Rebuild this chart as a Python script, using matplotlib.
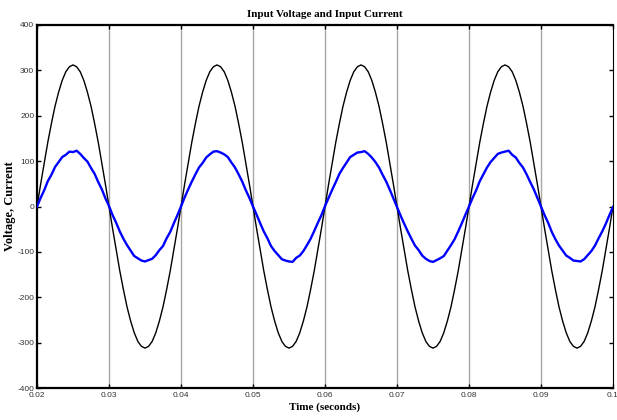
import numpy as np
import matplotlib.pyplot as plt

plt.rcParams['axes.unicode_minus'] = False

# samples every 0.5 ms, from 0.02 s to 0.1 s
time_s = np.linspace(0.02, 0.1, 161)

voltage = [
    0, 49, 96, 142, 183, 221, 252, 278, 297, 308, 312, 308, 297, 278, 252, 221, 183, 142, 96, 49,
    0, -49, -96, -142, -183, -221, -252, -278, -297, -308, -312, -308, -297, -278, -252, -221, -183, -142, -96, -49,
    0, 49, 96, 142, 183, 221, 252, 278, 297, 308, 312, 308, 297, 278, 252, 221, 183, 142, 96, 49,
    0, -49, -96, -142, -183, -221, -252, -278, -297, -308, -312, -308, -297, -278, -252, -221, -183, -142, -96, -49,
    0, 49, 96, 142, 183, 221, 252, 278, 297, 308, 312, 308, 297, 278, 252, 221, 183, 142, 96, 49,
    0, -49, -96, -142, -183, -221, -252, -278, -297, -308, -312, -308, -297, -278, -252, -221, -183, -142, -96, -49,
    0, 49, 96, 142, 183, 221, 252, 278, 297, 308, 312, 308, 297, 278, 252, 221, 183, 142, 96, 49,
    0, -49, -96, -142, -183, -221, -252, -278, -297, -308, -312, -308, -297, -278, -252, -221, -183, -142, -96, -49,
    0,
]

current = [
    0, 19, 36, 56, 70, 87, 98, 109, 114, 121, 120, 123, 116, 107, 99, 85, 72, 54, 38, 18,
    1, -19, -36, -55, -71, -85, -97, -109, -114, -119, -121, -118, -115, -107, -96, -87, -70, -56, -37, -19,
    0, 20, 38, 55, 71, 86, 96, 108, 115, 121, 122, 119, 115, 109, 97, 86, 71, 55, 36, 19,
    0, -18, -37, -55, -70, -87, -98, -107, -116, -119, -121, -122, -113, -108, -98, -85, -71, -54, -36, -19,
    1, 19, 37, 54, 72, 85, 97, 109, 114, 119, 120, 122, 116, 108, 98, 86, 70, 55, 37, 18,
    -1, -20, -38, -55, -71, -86, -96, -108, -115, -120, -122, -118, -114, -109, -97, -85, -72, -55, -37, -18,
    0, 19, 36, 56, 71, 86, 98, 107, 116, 119, 121, 123, 114, 108, 96, 86, 71, 54, 38, 19,
    0, -19, -36, -56, -72, -86, -97, -108, -113, -119, -120, -121, -116, -107, -98, -86, -70, -55, -38, -19,
    -1,
]

x_ticks = [0.02, 0.03, 0.04, 0.05, 0.06, 0.07, 0.08, 0.09, 0.1]
x_tick_labels = ['0.02', '0.03', '0.04', '0.05', '0.06', '0.07', '0.08', '0.09', '0.1']
y_ticks = [-400, -300, -200, -100, 0, 100, 200, 300, 400]

serif = ['Liberation Serif', 'DejaVu Serif']

fig = plt.figure(figsize=(6.17, 4.2), dpi=100)
ax = fig.add_axes([0.060, 0.076, 0.9335, 0.8645])

# vertical grid only
for xt in x_ticks[1:-1]:
    ax.axvline(xt, color='#a8a8a8', lw=1.0, zorder=1)

ax.plot(time_s, voltage, color='black', lw=1.0, zorder=3)
ax.plot(time_s, current, color='#0000ff', lw=1.7, zorder=4)

ax.set_xlim(0.02, 0.1)
ax.set_ylim(-400, 400)
ax.set_xticks(x_ticks)
ax.set_xticklabels(x_tick_labels)
ax.set_yticks(y_ticks)
ax.tick_params(direction='in', length=3, width=1, top=True, right=True,
               labelsize=6, labelcolor='#333333', pad=2)
ax.tick_params(axis='x', pad=3)
for lab in ax.get_xticklabels() + ax.get_yticklabels():
    lab.set_family(['Liberation Sans', 'DejaVu Sans'])

for side in ['top', 'bottom', 'left']:
    ax.spines[side].set_linewidth(1.6)
ax.spines['right'].set_linewidth(0.8)

ax.set_title('Input Voltage and Input Current', fontsize=8, fontweight='bold',
             family=serif, pad=6)
ax.set_xlabel('Time (seconds)', fontsize=8, fontweight='bold', family=serif, labelpad=2)
ax.set_ylabel('Voltage, Current', fontsize=9, fontweight='bold', family=serif)
ax.yaxis.set_label_coords(-0.036, 0.5)

fig.savefig('out.png', dpi=100)
